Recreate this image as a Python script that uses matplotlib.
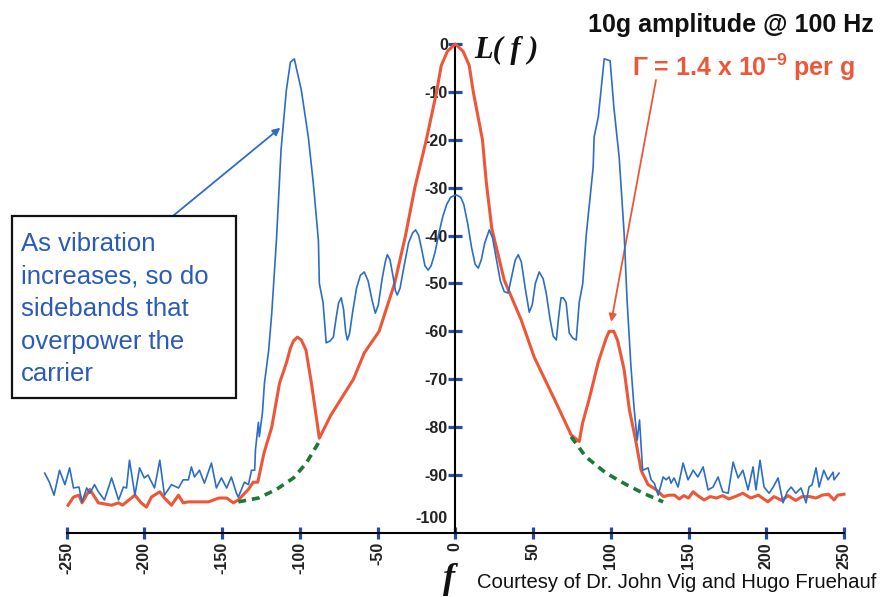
import matplotlib
matplotlib.use("Agg")
import matplotlib.pyplot as plt
from matplotlib.patches import Rectangle
from matplotlib.transforms import ScaledTranslation

plt.rcParams['font.family'] = ['Liberation Sans', 'DejaVu Sans']
plt.rcParams['mathtext.fontset'] = 'custom'
plt.rcParams['mathtext.rm'] = 'Liberation Sans:bold'
plt.rcParams['mathtext.it'] = 'Liberation Sans:bold'
plt.rcParams['mathtext.bf'] = 'Liberation Sans:bold'

# offset from carrier (Hz) and phase noise level L(f) (dB), low vibration (orange)
carrier_f = [-249, -245.5, -242, -240, -235, -229.5, -221, -216.5, -214, -206, -202,
             -198.6, -195.4, -190, -187, -182.5, -178, -175, -171.6, -158.7, -152, -147,
             -142.7, -139.5, -133, -130, -127, -123, -118, -113, -108.6, -106, -104, -101.5,
             -99, -96, -92.5, -87.4, -80, -65.5, -58.5, -49, -39, -32, -26, -18.6, -12, -9,
             -5, 0, 5, 9, 11.6, 17.5, 20, 23.5, 31.5, 42.4, 50.8, 65, 74.5, 79.7, 82,
             86, 92, 97, 99, 102, 104.5, 108.6, 112, 116, 119.5, 124, 129, 134, 137.5, 141, 144,
             147, 150, 153, 156, 160, 164, 168, 172, 176, 180, 185, 190, 195, 201, 205,
             210, 214, 219, 223, 228, 232, 236, 240, 243.6, 246, 250]
carrier_db = [-96.3, -94.6, -94.2, -95.8, -93, -95.8, -96.3, -95.8, -96.3, -94.2, -95.8,
              -96.7, -94.6, -93.5, -94.8, -96.3, -94.2, -95.8, -95.6, -95.6, -94.8, -94.8,
              -95.8, -95.2, -93, -91.5, -91.5, -85.4, -80, -70.8, -66.6, -63.5, -62, -61.2,
              -61.8, -63.9, -70.8, -82.3, -77.5, -70, -64.5, -60, -50, -40, -30, -20, -10, -4.5,
              -1.5, 0, -1.5, -4.5, -10, -20, -29, -38.5, -49.3, -57.6, -65.4, -75, -81.6, -83, -79,
              -74.3, -66.4, -61.5, -60, -60, -62, -68, -76.4, -82.7, -89, -92, -93, -94.5, -94.2,
              -94.2, -95, -94.3, -94.8, -93.5, -94.3, -95.2, -94.5, -94.8, -94.3, -95, -94.5,
              -93.8, -94.8, -94.2, -95.6, -94.5, -95.3, -94.3, -95.3, -94.5, -94.5, -94.8,
              -94.2, -94, -95.2, -94.2, -94]

# 10 g vibration at 100 Hz (blue)
vib_f = [-264, -261, -258, -254.5, -251, -248, -245.5, -242, -240, -237, -235, -232,
         -229.5, -225.6, -221, -216.5, -213.4, -211.4, -209.5, -206, -203, -200, -197.6,
         -193.4, -190, -187, -182.5, -178, -175, -171.6, -169.7, -167.7, -164.5, -161.3,
         -156.8, -153.6, -150.4, -147, -144, -140.7, -139.5, -135.6, -133, -131, -129,
         -128.5, -126.6, -126, -124, -122.7, -120, -118, -115, -112, -108.6, -106, -103.5,
         -99, -94.5, -91.3, -88, -87.4, -85, -83, -80.5, -78.4, -76.5, -75, -73.3, -71.8,
         -70.5, -69.4, -68, -66, -63.5, -61, -58.5, -56, -53.5, -51.4, -49.5, -47, -45,
         -43.7, -42, -40, -38.5, -37.3, -35.5, -33, -30, -27.5, -25.5, -23.5, -21.5, -19.5,
         -17.4, -15.5, -13, -10.5, -8, -5.5, -3, 0.6, 3.5, 5.5, 8, 10.5, 12.8, 14.8, 16.8,
         19, 21.9, 24, 26.5, 29, 31.5, 34, 36, 38.5, 40.5, 42.5, 45, 47.6, 49.5, 51.5, 54,
         56.5, 58.5, 61, 63, 65, 66.5, 68, 69.5, 71.3, 73.3, 75.5, 77.8, 79.7, 82, 84.2,
         88.7, 89.3, 92, 95.8, 99.6, 102, 105.4, 108.6, 110.5, 113, 115, 117, 118.5, 120.5,
         124, 126, 128, 130.5, 133.7, 135.6, 137.5, 138.8, 140.7, 143.3, 146.5, 149.7, 153,
         156, 159.4, 162.6, 165.8, 169, 172, 175.5, 178.7, 181.9, 185, 188.3, 191.5, 193.4,
         196, 198.6, 201.8, 204.5, 207.6, 210.8, 213.5, 216, 219, 222.4, 225.6, 227.5,
         229.5, 232, 234, 237, 239.7, 243, 243.6, 246.8]
vib_db = [-89.6, -91.5, -94.2, -89, -92, -88.5, -92.7, -92.5, -95.6, -92.7, -93.8, -92,
          -93.5, -95.2, -90.6, -95.2, -92.5, -92.7, -86.9, -94.2, -88.5, -90.6, -90,
          -92.7, -86.9, -94.2, -92, -92.7, -91, -91, -88.3, -90.4, -89, -91.7,
          -87.5, -92.7, -90.6, -92.7, -90.4, -93.8, -94.6, -91.5, -92, -89, -89,
          -84.8, -79, -82, -77, -70.8, -64, -56.2, -41, -22, -9.6, -3.8, -3.1,
          -9.6, -19.4, -29, -41, -50, -54, -62.4, -62, -61.2, -57, -54, -53, -55.5,
          -60, -61.8, -60.5, -56, -51, -48.3, -47.6, -49.5, -53.5, -56.2, -54.5, -49, -45.5,
          -44, -45, -48.5, -51.5, -52.4, -51, -46.5, -41.5, -39.5, -38.8, -40, -43, -46.3,
          -47.2, -46.3, -43.5, -39.5, -36, -33.5, -32, -31.5, -32, -33.5, -37.5, -42.5, -46,
          -46.8, -45, -41.5, -38.8, -40.5, -45, -49.5, -51.7, -52, -49, -45.2, -44, -45.5,
          -51, -56, -54.5, -50, -47.6, -49, -52, -57.5, -61, -61.8, -57, -53, -53, -54,
          -60.3, -61.4, -61.8, -54, -50, -40, -25.7, -19.4, -15.2, -3.1, -3.5, -13.2, -23.6,
          -39.5, -53.5, -67.4, -76, -82.7, -78.5, -89, -88.5, -91, -91.7, -94.2, -90.4, -91,
          -90.4, -91.7, -90.6, -92.5, -87.5, -91, -89, -90.4, -88.3, -93.1, -92.5, -90.4, -93.5,
          -93.8, -87.3, -90.6, -89, -93.1, -88.3, -93.1, -86.9, -92.5, -93.8, -92.5, -90.6,
          -95.8, -93.5, -92.5, -93.8, -92.7, -95.8, -92.5, -92, -88.5, -92.5, -89, -91, -89.4,
          -91, -89.6]

# carrier hidden under the sidebands (green dashes)
gap_left_f = [-139.5, -126.6, -115, -104, -95.8, -88, -86]
gap_left_db = [-95.6, -94.8, -93, -90.6, -87.5, -83.3, -82.3]
gap_right_f = [74.5, 84, 97, 110, 121, 133.7]
gap_right_db = [-82, -86.2, -89.6, -92, -93.8, -95.6]

freq_ticks = [-250, -200, -150, -100, -50, 0, 50, 100, 150, 200, 250]
level_ticks = [-100, -90, -80, -70, -60, -50, -40, -30, -20, -10, 0]

W, H = 883, 597
fig = plt.figure(figsize=(W / 100, H / 100), dpi=100)
ax = fig.add_axes([66.5 / W, 1 - 533 / H, (844 - 66.5) / W, (533 - 44) / H])

orange = '#ee5638'
blue = '#2c6dc6'
tickblue = '#1f4fa8'

ax.plot(carrier_f, carrier_db, color=orange, lw=2.2, clip_on=False, zorder=3)
ax.plot(vib_f, vib_db, color=blue, lw=1.2, clip_on=False, zorder=4)
ax.plot(gap_left_f, gap_left_db, color='#1b7a36', lw=2.6, ls=(0, (2.2, 1.6)), clip_on=False, zorder=5)
ax.plot(gap_right_f, gap_right_db, color='#1b7a36', lw=2.6, ls=(0, (2.2, 1.6)), clip_on=False, zorder=5)

ax.set_xlim(-250, 250)
ax.set_ylim(-102.1, 0)
ax.spines['top'].set_visible(False)
ax.spines['right'].set_visible(False)
ax.spines['left'].set_position(('data', 0))
ax.spines['left'].set_linewidth(1.5)
ax.spines['bottom'].set_linewidth(1.5)

ax.set_xticks(freq_ticks)
ax.set_xticklabels([str(v) for v in freq_ticks], rotation=90, fontsize=11.5,
                   fontweight='bold', color='#222222')
ax.set_yticks(level_ticks)
ax.set_yticklabels([str(v) for v in level_ticks], fontsize=11.5,
                   fontweight='bold', color='#222222')
ax.tick_params(axis='x', direction='inout', length=9, width=2.3, color=tickblue, pad=2)
ax.tick_params(axis='y', direction='inout', length=9.5, width=2.3, color=tickblue, pad=0.5)
# bottom level label sits a little above the x axis, without a tick mark
low_tick = ax.yaxis.get_major_ticks()[0]
low_tick.tick1line.set_visible(False)
low_tick.label1.set_transform(low_tick.label1.get_transform()
                              + ScaledTranslation(0, 0.06, fig.dpi_scale_trans))
ax.patch.set_alpha(0)


def px(x, y):
    return x / W, 1 - y / H


fig.text(*px(588, 25), '10g amplitude @ 100 Hz', fontsize=18, fontweight='bold',
         ha='left', va='center', color='#111111')
fig.text(*px(632, 67), r'$\Gamma$ = 1.4 x 10$^{-9}$ per g', fontsize=18,
         fontweight='bold', ha='left', va='center', color=orange)
fig.text(*px(474, 50), 'L( f )', fontsize=22, family='Liberation Serif',
         style='italic', fontweight='bold', ha='left', va='center', color='#111111')
fig.text(*px(449, 580), 'f', fontsize=26, family='Liberation Serif',
         style='italic', fontweight='bold', ha='center', va='center', color='#111111')
fig.text(*px(477, 583), 'Courtesy of Dr. John Vig and Hugo Fruehauf', fontsize=14.6,
         ha='left', va='center', color='#111111')

box = Rectangle(px(12, 398), 224 / W, 182 / H, transform=fig.transFigure,
                facecolor='white', edgecolor='#111111', lw=1.6, zorder=6)
fig.patches.append(box)
note = ['As vibration', 'increases, so do', 'sidebands that', 'overpower the', 'carrier']
for i, line in enumerate(note):
    fig.text(*px(21, 244 + i * 32.5), line, fontsize=18.5, color='#2a5bb8',
             ha='left', va='center', zorder=7)

ax.annotate('', xy=(-112.5, -17.5), xycoords='data',
            xytext=(168, H - 220), textcoords='figure pixels',
            arrowprops=dict(arrowstyle='-|>', color=blue, lw=1.3, mutation_scale=11,
                            shrinkA=0, shrinkB=0), annotation_clip=False)
ax.annotate('', xy=(100.3, -58), xycoords='data',
            xytext=(656, H - 80), textcoords='figure pixels',
            arrowprops=dict(arrowstyle='-|>', color=orange, lw=1.3, mutation_scale=11,
                            shrinkA=0, shrinkB=0), annotation_clip=False)

fig.savefig('out.png', dpi=100)
